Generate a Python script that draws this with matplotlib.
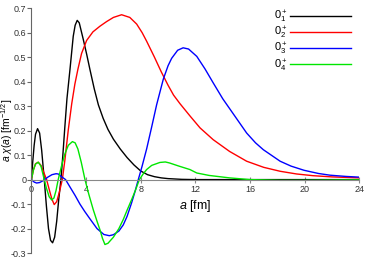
import matplotlib
matplotlib.use('Agg')
import matplotlib.pyplot as plt

plt.rcParams['font.family'] = ['Liberation Sans', 'DejaVu Sans']
plt.rcParams['mathtext.fontset'] = 'custom'
plt.rcParams['mathtext.rm'] = 'Liberation Sans'
plt.rcParams['mathtext.it'] = 'Liberation Sans:italic'

# a [fm] / a*chi(a) values
x_01 = [0, 0.1, 0.2, 0.3, 0.45, 0.6, 0.75, 0.94, 1.1, 1.25, 1.4, 1.55, 1.7, 1.85, 2.0, 2.16,
        2.3, 2.45, 2.6, 2.82, 3.06, 3.2, 3.35, 3.5, 3.8, 4.05, 4.28, 4.6, 4.9, 5.25, 5.6, 6.0,
        6.5, 7.0, 7.5, 8.0, 8.5, 9.0, 9.5, 10, 11, 12, 16, 24]
y_01 = [0, 0.075, 0.14, 0.185, 0.208, 0.19, 0.12, 0.0, -0.11, -0.2, -0.248, -0.258, -0.235,
        -0.17, -0.08, 0.0, 0.1, 0.218, 0.33, 0.449, 0.585, 0.63, 0.65, 0.64, 0.571, 0.51, 0.45,
        0.37, 0.305, 0.25, 0.205, 0.165, 0.125, 0.09, 0.06, 0.035, 0.02, 0.012, 0.007, 0.004,
        0.001, 0.0, 0.0, 0.0]

x_02 = [0, 0.15, 0.3, 0.5, 0.7, 0.9, 1.11, 1.3, 1.5, 1.67, 1.85, 2.05, 2.26, 2.45, 2.7, 2.95,
        3.18, 3.4, 3.67, 4.04, 4.5, 5.01, 5.5, 6.0, 6.6, 7.2, 7.7, 8.1, 8.43, 9.0, 9.5, 10.0,
        10.4, 10.87, 11.6, 12.34, 13.3, 14.5, 15.75, 17, 18.2, 19.4, 20.6, 22, 24]
y_02 = [0, 0.04, 0.065, 0.071, 0.058, 0.03, 0.0, -0.04, -0.08, -0.102, -0.09, -0.05, 0.0, 0.08,
        0.204, 0.31, 0.39, 0.45, 0.515, 0.568, 0.603, 0.626, 0.645, 0.662, 0.673, 0.662, 0.635,
        0.6, 0.565, 0.5, 0.44, 0.385, 0.345, 0.31, 0.26, 0.211, 0.163, 0.115, 0.075, 0.05,
        0.034, 0.023, 0.016, 0.011, 0.007]

x_03 = [0, 0.2, 0.38, 0.6, 0.8, 0.97, 1.2, 1.5, 1.8, 1.96, 2.2, 2.5, 2.82, 3.2, 3.55, 3.9,
        4.28, 4.8, 5.3, 5.7, 6.0, 6.4, 6.72, 7.0, 7.33, 7.6, 7.82, 8.1, 8.43, 8.8, 9.16, 9.65,
        10.0, 10.26, 10.7, 11.1, 11.5, 12.1, 12.7, 13.3, 14.0, 14.5, 15.0, 15.75, 16.4, 16.97,
        18.2, 19.0, 19.95, 21.0, 21.85, 23.0, 24.0]
y_03 = [0, -0.01, -0.014, -0.012, -0.006, 0.0, 0.01, 0.02, 0.024, 0.023, 0.012, 0.0, -0.03,
        -0.065, -0.1, -0.13, -0.16, -0.2, -0.224, -0.229, -0.225, -0.21, -0.185, -0.15, -0.095,
        -0.045, 0.0, 0.055, 0.125, 0.215, 0.305, 0.41, 0.465, 0.495, 0.528, 0.538, 0.533,
        0.503, 0.452, 0.395, 0.33, 0.29, 0.25, 0.19, 0.15, 0.122, 0.075, 0.055, 0.038, 0.025,
        0.018, 0.013, 0.01]

x_04 = [0, 0.15, 0.3, 0.5, 0.7, 0.94, 1.1, 1.3, 1.48, 1.65, 1.8, 1.96, 2.2, 2.45, 2.7, 3.0,
        3.2, 3.4, 3.65, 3.92, 4.2, 4.52, 4.8, 5.01, 5.2, 5.38, 5.6, 6.0, 6.4, 6.72, 7.0, 7.33,
        7.6, 7.9, 8.2, 8.43, 8.8, 9.4, 9.8, 10.1, 10.8, 11.6, 12.1, 13.0, 14.5, 16.0, 18.2,
        20, 22, 24]
y_04 = [0, 0.04, 0.063, 0.071, 0.055, 0.0, -0.035, -0.07, -0.083, -0.075, -0.045, 0.0, 0.055,
        0.105, 0.14, 0.155, 0.15, 0.125, 0.07, 0.0, -0.06, -0.122, -0.17, -0.204, -0.24,
        -0.265, -0.26, -0.235, -0.2, -0.163, -0.125, -0.082, -0.045, 0.0, 0.025, 0.041, 0.058,
        0.07, 0.072, 0.068, 0.055, 0.041, 0.027, 0.017, 0.007, 0.0, -0.003, -0.003, -0.002,
        -0.001]

labels = [r'$0_1^+$', r'$0_2^+$', r'$0_3^+$', r'$0_4^+$']
colors = ['black', '#ff0000', '#0000ff', '#00e600']

fig = plt.figure(figsize=(3.74, 2.62), dpi=100)
ax = fig.add_axes([0.084, 0.034, 0.877, 0.935])

for xs, ys, lab, c in zip([x_01, x_02, x_03, x_04], [y_01, y_02, y_03, y_04], labels, colors):
    ax.plot(xs, ys, color=c, lw=1.0, label=lab)

ax.set_xlim(0, 24)
ax.set_ylim(-0.3, 0.7)
ax.set_xticks([0, 4, 8, 12, 16, 20, 24])
ax.set_yticks([-0.3, -0.2, -0.1, 0, 0.1, 0.2, 0.3, 0.4, 0.5, 0.6, 0.7])
ax.set_yticklabels(['-0.3', '-0.2', '-0.1', '0', '0.1', '0.2', '0.3', '0.4', '0.5', '0.6', '0.7'])

for s in ['top', 'right']:
    ax.spines[s].set_visible(False)
ax.spines['bottom'].set_position(('data', 0))
ax.spines['bottom'].set_color('#888888')
ax.spines['left'].set_color('#666666')
ax.tick_params(axis='x', direction='inout', length=4, width=0.8, colors='#888888',
               labelsize=6.5, labelcolor='#333333', pad=2)
ax.tick_params(axis='y', direction='out', length=3, width=0.8, colors='#666666',
               labelsize=6.5, labelcolor='#333333', pad=0.5)

ax.set_xlabel(r'$a$ [fm]', fontsize=9)
ax.xaxis.set_label_coords(0.5, 0.225)
# y label placed by hand so it stays inside the figure
fig.text(6.8 / 374, 1 - 130 / 262, r'$a\ \chi(a)$ [fm$^{-1/2}$]', fontsize=7.5,
         rotation=90, ha='center', va='center')

ax.legend(loc='upper right', bbox_to_anchor=(0.995, 1.025), markerfirst=False, frameon=False,
          handlelength=5.5, handletextpad=0.25, fontsize=8, labelspacing=0.0,
          borderaxespad=0.2)

fig.savefig('out.png', dpi=100)
